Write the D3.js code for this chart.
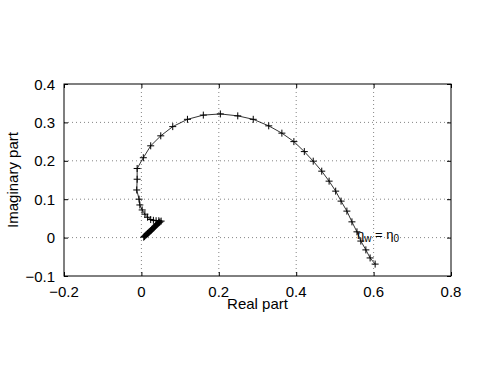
<!DOCTYPE html>
<html>
<head>
<meta charset="utf-8">
<script src="https://cdn.jsdelivr.net/npm/d3@7"></script>
<style>
  html, body { margin: 0; padding: 0; background: #fff; }
  svg { display: block; }
  text { font-family: "Liberation Sans", Arial, Helvetica, sans-serif; fill: #000; }
</style>
</head>
<body>
<svg id="chart" width="498" height="375"></svg>
<script>
// ---- data ----
const realPart = [
  0.604, 0.591, 0.580, 0.567, 0.557, 0.544, 0.531, 0.516, 0.502, 0.485,
  0.466, 0.444, 0.421, 0.394, 0.363, 0.329, 0.289, 0.249, 0.204, 0.160,
  0.119, 0.081, 0.050, 0.024, 0.005, -0.011, -0.011, -0.012, -0.006, -0.004,
  0.002, 0.009, 0.016, 0.024, 0.031, 0.038, 0.045, 0.051,
  0.048, 0.046, 0.044, 0.042, 0.040, 0.038, 0.036, 0.034, 0.032, 0.030,
  0.028, 0.026, 0.024, 0.022, 0.020, 0.018, 0.016, 0.014, 0.012, 0.010,
  0.008, 0.006
];
const imagPart = [
  -0.069, -0.053, -0.032, -0.009, 0.015, 0.041, 0.069, 0.095, 0.121, 0.147,
  0.173, 0.199, 0.224, 0.250, 0.272, 0.291, 0.308, 0.317, 0.322, 0.319,
  0.308, 0.289, 0.265, 0.239, 0.208, 0.180, 0.152, 0.124, 0.100, 0.085,
  0.072, 0.061, 0.053, 0.047, 0.045, 0.044, 0.044, 0.043,
  0.041, 0.039, 0.038, 0.036, 0.034, 0.032, 0.030, 0.028, 0.026, 0.024,
  0.022, 0.020, 0.018, 0.016, 0.014, 0.012, 0.011, 0.009, 0.007, 0.005,
  0.003, 0.001
];
const xTicks = [-0.2, 0, 0.2, 0.4, 0.6, 0.8];
const yTicks = [-0.1, 0, 0.1, 0.2, 0.3, 0.4];
const xTickLabels = ["\u22120.2", "0", "0.2", "0.4", "0.6", "0.8"];
const yTickLabels = ["\u22120.1", "0", "0.1", "0.2", "0.3", "0.4"];
const xLabel = "Real part";
const yLabel = "Imaginary part";
const annot = { x: 0.557, y: -0.003 };

// ---- layout ----
const L = 64, R = 451, T = 84, B = 276;
const svg = d3.select("#chart");
const x = d3.scaleLinear().domain([-0.2, 0.8]).range([L, R]);
const y = d3.scaleLinear().domain([-0.1, 0.4]).range([B, T]);

// grid
const grid = svg.append("g").attr("stroke", "#666").attr("stroke-width", 0.8)
  .attr("stroke-dasharray", "1,3");
xTicks.slice(1, -1).forEach(v => grid.append("line")
  .attr("x1", x(v)).attr("x2", x(v)).attr("y1", T).attr("y2", B));
yTicks.slice(1, -1).forEach(v => grid.append("line")
  .attr("x1", L).attr("x2", R).attr("y1", y(v)).attr("y2", y(v)));

// axes (inward ticks, box)
const tl = 4;
svg.append("g").attr("transform", `translate(0,${B})`)
  .call(d3.axisBottom(x).tickValues(xTicks).tickSize(-tl).tickFormat(""))
  .call(g => g.select(".domain").remove());
svg.append("g").attr("transform", `translate(0,${T})`)
  .call(d3.axisTop(x).tickValues(xTicks).tickSize(-tl).tickFormat(""))
  .call(g => g.select(".domain").remove());
svg.append("g").attr("transform", `translate(${L},0)`)
  .call(d3.axisLeft(y).tickValues(yTicks).tickSize(-tl).tickFormat(""))
  .call(g => g.select(".domain").remove());
svg.append("g").attr("transform", `translate(${R},0)`)
  .call(d3.axisRight(y).tickValues(yTicks).tickSize(-tl).tickFormat(""))
  .call(g => g.select(".domain").remove());
svg.selectAll(".tick line").attr("stroke", "#000");
svg.append("rect").attr("x", L).attr("y", T).attr("width", R - L).attr("height", B - T)
  .attr("fill", "none").attr("stroke", "#000").attr("stroke-width", 1);

// tick labels
svg.append("g").selectAll("text").data(xTicks).join("text")
  .attr("x", d => x(d)).attr("y", B + 21).attr("text-anchor", "middle")
  .attr("font-size", 15).text((d, i) => xTickLabels[i]);
svg.append("g").selectAll("text").data(yTicks).join("text")
  .attr("x", L - 9).attr("y", d => y(d) + 5.5).attr("text-anchor", "end")
  .attr("font-size", 15).text((d, i) => yTickLabels[i]);

// axis labels
svg.append("text").attr("x", (L + R) / 2).attr("y", B + 33).attr("text-anchor", "middle")
  .attr("font-size", 15).text(xLabel);
svg.append("text").attr("transform", `translate(18,${(T + B) / 2}) rotate(-90)`)
  .attr("text-anchor", "middle").attr("font-size", 15).text(yLabel);

// curve
const pts = realPart.map((v, i) => [v, imagPart[i]]);
svg.append("path").datum(pts)
  .attr("d", d3.line().x(d => x(d[0])).y(d => y(d[1])))
  .attr("fill", "none").attr("stroke", "#000").attr("stroke-width", 0.8);

// markers '+'
const m = 3.5;
svg.append("g").selectAll("path").data(pts).join("path")
  .attr("d", d => `M${x(d[0]) - m},${y(d[1])}h${2 * m}M${x(d[0])},${y(d[1]) - m}v${2 * m}`)
  .attr("stroke", "#000").attr("stroke-width", 1).attr("fill", "none");

// annotation
const t = svg.append("text").attr("x", x(annot.x)).attr("y", y(annot.y))
  .attr("font-size", 13).style("fill", "#000");
t.append("tspan").text("\u03B7");
t.append("tspan").attr("font-size", 10).attr("dy", 3).text("w");
t.append("tspan").attr("dy", -3).text(" = \u03B7");
t.append("tspan").attr("font-size", 10).attr("dy", 3).text("0");
</script>
</body>
</html>
